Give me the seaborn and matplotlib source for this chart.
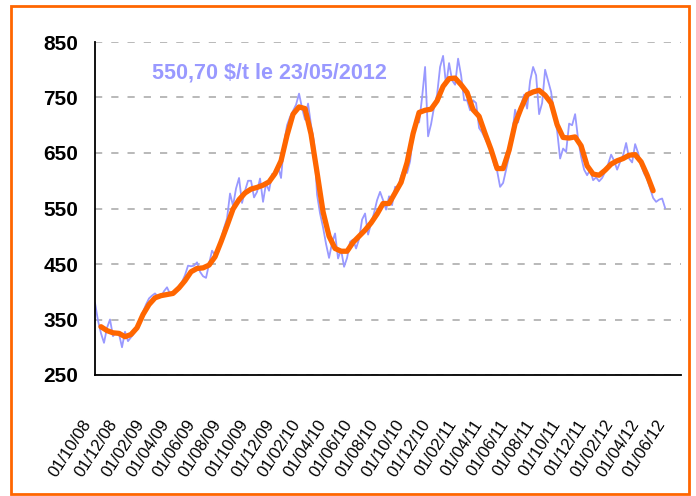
import pandas as pd
import numpy as np
import matplotlib
matplotlib.use('Agg')
import matplotlib.pyplot as plt
import matplotlib.transforms as mtransforms
from matplotlib.patches import Rectangle
import seaborn as sns

# weekly prices ($/t), first week 01/10/2008
blue_start = '2008-10-01'
blue_prices = [
    380, 348, 325, 308, 335, 350, 320, 327, 324, 300,
    328, 311, 318, 325, 332, 349, 364, 377, 388, 393,
    397, 391, 391, 401, 408, 396, 394, 402, 410, 418,
    430, 447, 446, 447, 453, 436, 428, 425, 450, 474,
    466, 470, 495, 515, 532, 577, 555, 586, 605, 560,
    582, 600, 600, 570, 580, 604, 562, 595, 582, 612,
    608, 626, 605, 668, 700, 715, 726, 737, 757, 731,
    710, 739, 700, 669, 575, 541, 516, 486, 461, 488,
    505, 460, 476, 445, 461, 490, 494, 478, 495, 530,
    541, 503, 523, 542, 565, 580, 565, 548, 572, 556,
    589, 589, 608, 622, 614, 635, 682, 712, 705, 750,
    805, 680, 702, 733, 755, 805, 825, 772, 812, 781,
    773, 820, 790, 745, 745, 727, 745, 740, 695, 687,
    676, 665, 656, 629, 618, 589, 596, 620, 645, 683,
    728, 705, 737, 755, 730, 780, 805, 790, 720, 740,
    800, 780, 760, 720, 690, 640, 658, 652, 703, 700,
    720, 675, 643, 620, 610, 620, 601, 606, 599, 605,
    616, 630, 647, 636, 620, 634, 646, 668, 640, 633,
    666, 650, 628, 613, 603, 586, 569, 562, 566, 568,
    550.7,
]

# smoothed price (moving average), every two weeks from 15/10/2008
orange_start = '2008-10-15'
orange_prices = [
    337, 330, 326, 325, 319, 323, 335, 359, 377, 389,
    393, 395, 397, 407, 420, 436, 442, 443, 448, 463,
    490, 519, 549, 566, 578, 585, 588, 592, 598, 613,
    636, 682, 720, 733, 730, 684, 615, 544, 500, 478,
    473, 473, 489, 500, 511, 524, 540, 559, 559, 578,
    597, 633, 685, 723, 727, 729, 744, 770, 784, 785,
    773, 759, 728, 716, 685, 656, 622, 622, 655, 703,
    731, 755, 760, 763, 754, 740, 701, 678, 677, 679,
    663, 627, 612, 610, 619, 630, 636, 640, 646, 647,
    634, 610, 582,
]

y_ticks = [250, 350, 450, 550, 650, 750, 850]
x_tick_dates = pd.date_range('2008-10-01', '2012-06-01', freq='2MS')
x_tick_labels = [d.strftime('%d/%m/%y') for d in x_tick_dates]
note = '550,70 $/t le 23/05/2012'

daily = pd.DataFrame({
    'date': pd.date_range(blue_start, periods=len(blue_prices), freq='7D'),
    'price': blue_prices,
})
smooth = pd.DataFrame({
    'date': pd.date_range(orange_start, periods=len(orange_prices), freq='14D'),
    'price': orange_prices,
})

sns.set_style('white')
plt.rcParams['font.family'] = ['Liberation Sans', 'DejaVu Sans']

W, H = 696, 496
fig = plt.figure(figsize=(W / 100, H / 100), dpi=100)
ax = fig.add_axes([95 / W, 1 - 375 / H, (681 - 95) / W, (375 - 42) / H])

sns.lineplot(data=daily, x='date', y='price', color='#9999ff', lw=1.3, ax=ax)
sns.lineplot(data=smooth, x='date', y='price', color='#ff6600', lw=3.8, ax=ax)

ax.set_ylim(250, 850)
ax.set_xlim(pd.Timestamp('2008-10-01'), pd.Timestamp('2012-06-29'))
ax.set_yticks(y_ticks)
ax.set_yticklabels([str(v) for v in y_ticks], fontsize=15, fontweight='bold')
ax.set_xticks(x_tick_dates)
ax.set_xticklabels(x_tick_labels, fontsize=12, rotation=57, ha='right',
                   va='center', rotation_mode='anchor')
ax.set_xlabel('')
ax.set_ylabel('')

ax.yaxis.grid(True, ls=(0, (4, 5)), color='#b3b3b3', lw=1.3)
ax.xaxis.grid(False)
for side in ['top', 'right']:
    ax.spines[side].set_visible(False)
for side in ['left', 'bottom']:
    ax.spines[side].set_color('black')
    ax.spines[side].set_linewidth(1.3)

ax.tick_params(axis='y', direction='out', length=5, width=1.3, pad=7, colors='black')
ax.tick_params(axis='x', direction='out', length=6, width=1.3, pad=27, colors='black')
offset = mtransforms.ScaledTranslation(-7 / 100, 0, fig.dpi_scale_trans)
for lab in ax.get_xticklabels():
    lab.set_transform(lab.get_transform() + offset)

fig.text(152 / W, 1 - 73 / H, note, color='#9999ff', fontsize=15.5,
         fontweight='bold', ha='left', va='center')

fig.patches.append(Rectangle((11 / W, 1 - 494 / H), 678 / W, 488 / H,
                             fill=False, edgecolor='#ff6600', lw=2,
                             transform=fig.transFigure))

fig.savefig('out.png', dpi=100)
